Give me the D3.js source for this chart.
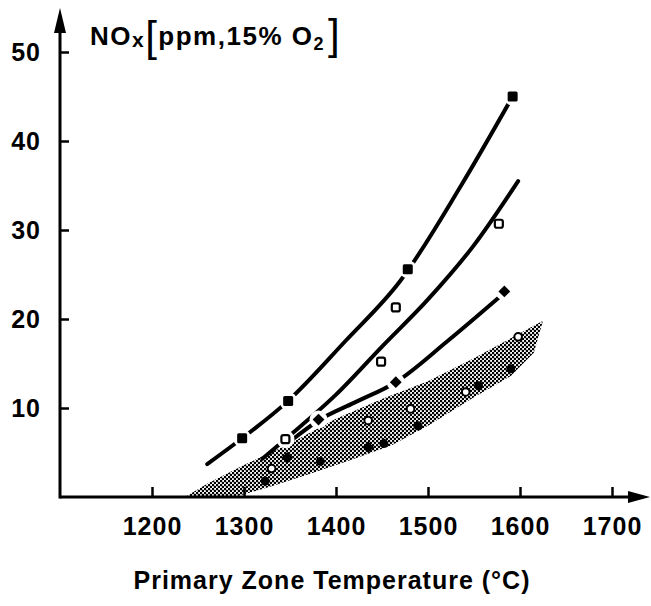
<!DOCTYPE html>
<html>
<head>
<meta charset="utf-8">
<script src="https://cdn.jsdelivr.net/npm/d3@7"></script>
<style>
    body { margin: 0; background: #fff; }
    svg text { font-family: "Liberation Sans", Arial, sans-serif; font-weight: bold; fill: #000; }
</style>
</head>
<body>
<div id="chart"></div>
<script>
// tick labels
var xTicks = [1200, 1300, 1400, 1500, 1600, 1700];
var yTicks = [10, 20, 30, 40, 50];

// upper curve (filled squares)
var lineSquares = [[1260, 3.7], [1298, 6.6], [1348, 10.8], [1410, 17.5], [1470, 24.3], [1536, 35], [1592, 45]];
var filledSquares = [[1298, 6.6], [1348, 10.8], [1478, 25.6], [1592, 45]];

// middle curve (open squares)
var lineOpen = [[1320, 4.3], [1345, 6.5], [1400, 11.5], [1450, 16.9], [1500, 22.2], [1550, 28.3], [1598, 35.5]];
var openSquares = [[1345, 6.5], [1449, 15.2], [1465, 21.3], [1577, 30.7]];

// lower curve (filled diamonds)
var lineDiamonds = [[1352, 6.4], [1381, 8.6], [1420, 10.6], [1465, 12.9], [1521, 17.5], [1578, 22.5]];
var diamonds = [[1381, 8.7], [1465, 12.9], [1583, 23.1]];

// shaded band
var bandUpper = [[1236, 0], [1260, 1.5], [1300, 3.6], [1350, 6.0], [1400, 8.8], [1450, 11.0], [1500, 13.0], [1550, 15.6], [1600, 18.4], [1625, 19.8]];
var bandLower = [[1236, 0], [1290, 0], [1330, 1.2], [1372, 2.6], [1420, 4.3], [1460, 5.8], [1500, 8.0], [1550, 11.2], [1590, 13.6], [1615, 16.2], [1625, 19.8]];
var bandFilled = [[1323, 1.8], [1383, 4.0], [1452, 6.0], [1489, 8.0], [1555, 12.5], [1590, 14.4]];
var bandOpen = [[1330, 3.2], [1435, 8.6], [1481, 9.9], [1541, 11.8], [1598, 18.0]];
var bandDiamonds = [[1347, 4.4], [1435, 5.6]];

NoxChart = function(_parentElement){
    var vis = this;
    vis.parentElement = _parentElement;
    vis.initVis();
};

NoxChart.prototype.initVis = function(){
    var vis = this;

    vis.margin = { top: 8, right: 1, bottom: 109, left: 60 };
    vis.width = 651 - vis.margin.left - vis.margin.right;
    vis.height = 606 - vis.margin.top - vis.margin.bottom;

    vis.root = d3.select("#" + vis.parentElement).append("svg")
        .attr("width", 651)
        .attr("height", 606);

    // dotted fill of the band
    var pat = vis.root.append("defs").append("pattern")
        .attr("id", "stipple")
        .attr("patternUnits", "userSpaceOnUse")
        .attr("width", 4)
        .attr("height", 4);
    pat.append("circle").attr("cx", 1).attr("cy", 1).attr("r", 1.3).attr("fill", "#000");
    pat.append("circle").attr("cx", 3).attr("cy", 3).attr("r", 1.3).attr("fill", "#000");

    vis.svg = vis.root.append("g")
        .attr("transform", "translate(" + vis.margin.left + "," + vis.margin.top + ")");

    vis.x = d3.scaleLinear()
        .domain([1200, 1700])
        .range([92, 552]);

    vis.y = d3.scaleLinear()
        .domain([0, 50])
        .range([vis.height, vis.height - 445]);

    vis.updateVis();
};

NoxChart.prototype.updateVis = function(){
    var vis = this;

    var line = d3.line()
        .x(function(d){ return vis.x(d[0]); })
        .y(function(d){ return vis.y(d[1]); })
        .curve(d3.curveMonotoneX);

    // band
    var bandPts = bandUpper.concat(bandLower.slice().reverse());
    vis.svg.append("path")
        .attr("d", d3.line()
            .x(function(d){ return vis.x(d[0]); })
            .y(function(d){ return vis.y(d[1]); })
            .curve(d3.curveLinearClosed)(bandPts))
        .attr("fill", "url(#stipple)");

    // curves
    [lineSquares, lineOpen, lineDiamonds].forEach(function(pts){
        vis.svg.append("path")
            .attr("d", line(pts))
            .attr("fill", "none")
            .attr("stroke", "#000")
            .attr("stroke-width", 4)
            .attr("stroke-linecap", "round");
    });

    // white gaps round the on-line markers
    var halo = filledSquares.concat(diamonds).concat([openSquares[0]]);
    vis.svg.selectAll(".halo")
        .data(halo)
        .enter().append("circle")
        .attr("class", "halo")
        .attr("cx", function(d){ return vis.x(d[0]); })
        .attr("cy", function(d){ return vis.y(d[1]); })
        .attr("r", 9)
        .attr("fill", "#fff");

    vis.svg.selectAll(".fsq")
        .data(filledSquares)
        .enter().append("rect")
        .attr("class", "fsq")
        .attr("x", function(d){ return vis.x(d[0]) - 5; })
        .attr("y", function(d){ return vis.y(d[1]) - 5; })
        .attr("width", 10)
        .attr("height", 10)
        .attr("rx", 1.5)
        .attr("fill", "#000");

    vis.svg.selectAll(".osq")
        .data(openSquares)
        .enter().append("rect")
        .attr("class", "osq")
        .attr("x", function(d){ return vis.x(d[0]) - 4; })
        .attr("y", function(d){ return vis.y(d[1]) - 4; })
        .attr("width", 8)
        .attr("height", 8)
        .attr("rx", 2)
        .attr("fill", "#fff")
        .attr("stroke", "#000")
        .attr("stroke-width", 2.2);

    var diamondPath = d3.symbol().type(d3.symbolSquare).size(70);
    vis.svg.selectAll(".dia")
        .data(diamonds.concat(bandDiamonds))
        .enter().append("path")
        .attr("class", "dia")
        .attr("d", diamondPath)
        .attr("transform", function(d){ return "translate(" + vis.x(d[0]) + "," + vis.y(d[1]) + ") rotate(45)"; })
        .attr("fill", "#000");

    vis.svg.selectAll(".bfc")
        .data(bandFilled)
        .enter().append("circle")
        .attr("class", "bfc")
        .attr("cx", function(d){ return vis.x(d[0]); })
        .attr("cy", function(d){ return vis.y(d[1]); })
        .attr("r", 4.5)
        .attr("fill", "#000");

    vis.svg.selectAll(".boc")
        .data(bandOpen)
        .enter().append("circle")
        .attr("class", "boc")
        .attr("cx", function(d){ return vis.x(d[0]); })
        .attr("cy", function(d){ return vis.y(d[1]); })
        .attr("r", 3.8)
        .attr("fill", "#fff")
        .attr("stroke", "#000")
        .attr("stroke-width", 2);

    // axes
    vis.xAxis = d3.axisBottom(vis.x)
        .tickValues(xTicks)
        .tickSize(-10)
        .tickPadding(20)
        .tickFormat(d3.format("d"));

    vis.yAxis = d3.axisLeft(vis.y)
        .tickValues(yTicks)
        .tickSize(-9)
        .tickPadding(19);

    var gx = vis.svg.append("g")
        .attr("transform", "translate(0," + vis.height + ")")
        .call(vis.xAxis);
    var gy = vis.svg.append("g")
        .call(vis.yAxis);

    [gx, gy].forEach(function(g){
        g.select(".domain").remove();
        g.selectAll(".tick line").attr("stroke", "#000").attr("stroke-width", 2.5);
        g.selectAll(".tick text")
            .style("font-size", "25px")
            .style("letter-spacing", "1px")
            .attr("fill", "#000");
    });

    // axis lines with arrows
    vis.svg.append("line")
        .attr("x1", 0).attr("y1", vis.height)
        .attr("x2", vis.width - 10).attr("y2", vis.height)
        .attr("stroke", "#000").attr("stroke-width", 3);
    vis.svg.append("line")
        .attr("x1", 0).attr("y1", vis.height + 1.5)
        .attr("x2", 0).attr("y2", 10)
        .attr("stroke", "#000").attr("stroke-width", 3);
    vis.svg.append("path")
        .attr("d", "M" + vis.width + "," + vis.height + "l-22,-6l0,12z")
        .attr("fill", "#000");
    vis.svg.append("path")
        .attr("d", "M0,0l-6,25l12,0z")
        .attr("fill", "#000");

    // titles
    var yl = vis.root.append("text")
        .attr("x", 90)
        .attr("y", 45)
        .style("font-size", "26px")
        .style("letter-spacing", "1.5px");
    yl.append("tspan").text("NO");
    yl.append("tspan").style("font-size", "21px").attr("dy", 2).text("x");
    yl.append("tspan").style("font-size", "42px").style("font-weight", "normal").attr("dy", 4).text("[");
    yl.append("tspan").attr("dy", -6).text("ppm,15% O");
    yl.append("tspan").style("font-size", "18px").attr("dy", 5).text("2");
    yl.append("tspan").style("font-size", "42px").style("font-weight", "normal").attr("dy", -1).attr("dx", 3).text("]");

    vis.root.append("text")
        .attr("x", 332)
        .attr("y", 589)
        .attr("text-anchor", "middle")
        .style("font-size", "25px")
        .style("letter-spacing", "1px")
        .text("Primary Zone Temperature (°C)");
};

var chart = new NoxChart("chart");
</script>
</body>
</html>
